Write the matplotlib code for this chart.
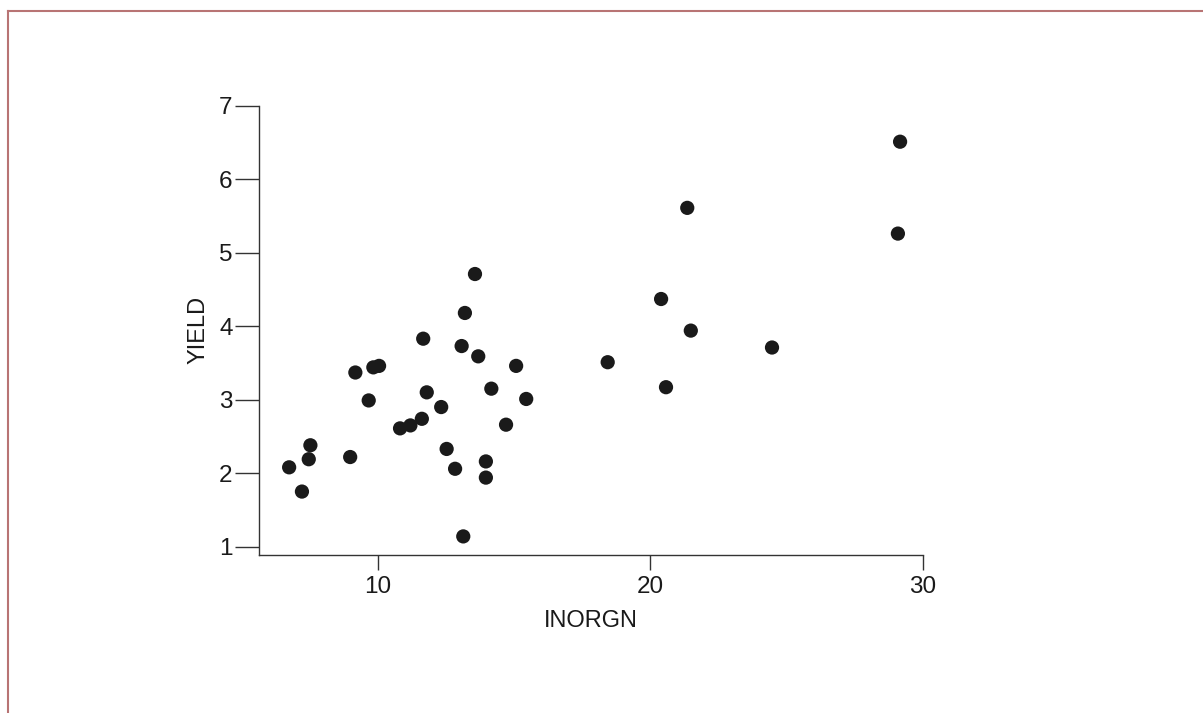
import matplotlib
matplotlib.use("Agg")
import matplotlib.pyplot as plt
from matplotlib.lines import Line2D

plt.rcParams['font.family'] = ['Liberation Sans', 'DejaVu Sans']

inorgn = [6.75, 7.22, 7.47, 7.53, 8.99, 9.18, 9.67, 9.84, 10.05, 10.82,
          11.20, 11.62, 11.67, 11.80, 12.33, 12.53, 12.84, 13.08, 13.14, 13.20,
          13.57, 13.69, 13.97, 13.97, 14.17, 14.71, 15.08, 15.45, 18.44, 20.40,
          20.58, 21.36, 21.49, 24.47, 29.09, 29.17]
yield_ = [2.08, 1.75, 2.19, 2.38, 2.22, 3.37, 2.99, 3.44, 3.46, 2.61,
          2.65, 2.74, 3.83, 3.10, 2.90, 2.33, 2.06, 3.73, 1.14, 4.18,
          4.71, 3.59, 2.16, 1.94, 3.15, 2.66, 3.46, 3.01, 3.51, 4.37,
          3.17, 5.61, 3.94, 3.71, 5.26, 6.51]
xticks = [10, 20, 30]
yticks = [1, 2, 3, 4, 5, 6, 7]

W, H = 1203, 713
fig = plt.figure(figsize=(W / 100, H / 100), dpi=100)
ax = fig.add_axes([259 / W, 1 - 555 / H, (922.7 - 259) / W, (555 - 105.7) / H])

ax.scatter(inorgn, yield_, s=105, color='#1a1a1a', edgecolors='none', zorder=3)

ax.set_xlim(5.644, 30)
ax.set_ylim(0.887, 7)
ax.set_xticks(xticks)
ax.set_yticks(yticks)
for side in ['top', 'right']:
    ax.spines[side].set_visible(False)
for side in ['left', 'bottom']:
    ax.spines[side].set_color('#333333')
    ax.spines[side].set_linewidth(1.0)
ax.tick_params(axis='y', direction='out', length=17, width=1.0, color='#333333',
               labelsize=17.5, pad=2, labelcolor='#1a1a1a')
ax.tick_params(axis='x', direction='out', length=11, width=1.0, color='#333333',
               labelsize=17.5, pad=4, labelcolor='#1a1a1a')
ax.set_xlabel('INORGN', fontsize=17, color='#1a1a1a', labelpad=9)
ax.set_ylabel('YIELD', fontsize=17, color='#1a1a1a', labelpad=7)

# figure border (top and left)
bc = '#b87474'
fig.add_artist(Line2D([7.5 / W, 1.0], [1 - 10.5 / H, 1 - 10.5 / H], transform=fig.transFigure,
                      color=bc, lw=1.5))
fig.add_artist(Line2D([7.5 / W, 7.5 / W], [0, 1 - 10.5 / H], transform=fig.transFigure,
                      color=bc, lw=1.5))

fig.savefig('out.png', dpi=100)
